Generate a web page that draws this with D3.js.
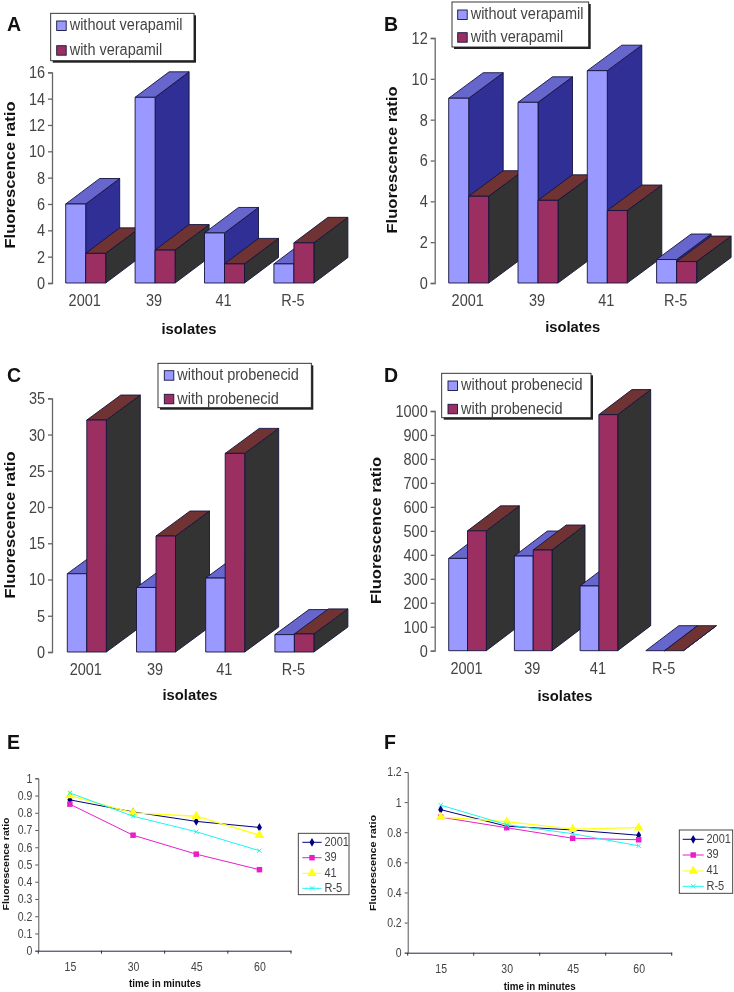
<!DOCTYPE html>
<html><head><meta charset="utf-8">
<script src="https://cdn.jsdelivr.net/npm/d3@7"></script>
<style>
html,body{margin:0;padding:0;background:#fff}
svg{display:block;filter:blur(0.4px)}
text{font-family:"Liberation Sans",Arial,sans-serif}
.tall{transform-box:fill-box;transform-origin:center;transform:scaleY(1.16)}
</style></head><body>
<svg id="c" width="734" height="992"></svg>
<script>
// ---- data ----
const categories = ["2001","39","41","R-5"];
const times = ["15","30","45","60"];
const verapamilNames = ["without verapamil","with verapamil"];
const probenecidNames = ["without probenecid","with probenecid"];
const lineNames = ["2001","39","41","R-5"];

const aWithout = [6, 14.1, 3.8, 1.45];
const aWith    = [2.25, 2.5, 1.45, 3.05];
const bWithout = [9.05, 8.85, 10.4, 1.15];
const bWith    = [4.25, 4.05, 3.55, 1.05];
const cWithout = [10.8, 8.9, 10.2, 2.4];
const cWith    = [32, 16, 27.4, 2.5];
const dWithout = [385, 395, 270, 0];
const dWith    = [500, 420, 985, 0];

const aTicks = [0,2,4,6,8,10,12,14,16];
const bTicks = [0,2,4,6,8,10,12];
const cTicks = [0,5,10,15,20,25,30,35];
const dTicks = [0,100,200,300,400,500,600,700,800,900,1000];
const eTicks = [0,0.1,0.2,0.3,0.4,0.5,0.6,0.7,0.8,0.9,1];
const fTicks = [0,0.2,0.4,0.6,0.8,1,1.2];

const e2001 = [0.875,0.805,0.75,0.715];
const e39   = [0.85,0.67,0.56,0.47];
const e41   = [0.90,0.80,0.78,0.67];
const eR5   = [0.915,0.78,0.69,0.58];
const f2001 = [0.95,0.84,0.815,0.78];
const f39   = [0.90,0.83,0.76,0.75];
const f41   = [0.90,0.87,0.82,0.83];
const fR5   = [0.98,0.85,0.79,0.71];

// ---- styles ----
const barFaces = [
  {front:"#9999ff",top:"#6666cc",side:"#2f2f96"},
  {front:"#9b2f62",top:"#703333",side:"#333333"}
];
const lineColors = ["#000080","#e81fc8","#ffff1a","#19f5f0"];
const symbols = [d3.symbolDiamond,d3.symbolSquare,d3.symbolTriangle,d3.symbolTimes];
const symbolSizes = [22,30,40,14];
const outline = "#14143c";
const svg = d3.select("#c");

function letter(t,x,y){
  svg.append("text").attr("x",x).attr("y",y).attr("font-size",19.5).attr("font-weight","bold")
     .attr("fill","#111").text(t);
}
function axisStyle(g,col,w,fs){
  g.selectAll("path,line").attr("stroke",col).attr("stroke-width",w);
  g.selectAll("text").attr("fill","#444").attr("font-size",fs).attr("class","tall")
   .style("font-family",'"Liberation Sans",Arial,sans-serif');
}
function rotated(t,x,y,fs,len){
  svg.append("text").attr("transform",`translate(${x},${y}) rotate(-90)`)
    .attr("text-anchor","middle").attr("dominant-baseline","middle")
    .attr("font-size",fs).attr("font-weight","bold").attr("fill","#111")
    .attr("textLength",len).attr("lengthAdjust","spacingAndGlyphs").text(t);
}
function centred(t,x,y,fs,len){
  svg.append("text").attr("x",x).attr("y",y).attr("text-anchor","middle").attr("dominant-baseline","middle")
    .attr("font-size",fs).attr("font-weight","bold").attr("fill","#111")
    .attr("textLength",len).attr("lengthAdjust","spacingAndGlyphs").text(t);
}

function barPanel(p){
  const y = d3.scaleLinear().domain([0,d3.max(p.ticks)]).range([p.y0,p.yTop]);
  const x = d3.scaleBand().domain(categories)
     .range([p.barX, p.barX+3*p.step+2*p.barW]).paddingInner(1-2*p.barW/p.step).paddingOuter(0);
  const inner = d3.scaleBand().domain([0,1]).range([0,x.bandwidth()]);
  const gy = svg.append("g").attr("transform",`translate(${p.axisX},0)`)
     .call(d3.axisLeft(y).tickValues(p.ticks).tickSize(4).tickSizeOuter(4).tickPadding(3).tickFormat(d3.format("d")));
  axisStyle(gy,"#666",1.3,14.5);
  const gx = svg.append("g").attr("transform",`translate(-1,${p.y0})`)
     .call(d3.axisBottom(x).tickSize(0).tickPadding(12));
  gx.select("path").remove();
  axisStyle(gx,"#666",1,14.5);

  categories.forEach((c,i)=>{
    const g = svg.append("g").attr("stroke",outline).attr("stroke-width",0.9).attr("stroke-linejoin","round");
    p.series.forEach((vals,s)=>{
      const x0 = x(c)+inner(s), w = inner.bandwidth(), x1 = x0+w, yt = y(vals[i]), yb = y(0);
      const dx = p.dx, dy = p.dy, f = barFaces[s];
      g.append("path").attr("fill",f.side)
        .attr("d",d3.line()([[x1,yb],[x1+dx,yb-dy],[x1+dx,yt-dy],[x1,yt]])+"Z");
      g.append("path").attr("fill",f.top)
        .attr("d",d3.line()([[x0,yt],[x0+dx,yt-dy],[x1+dx,yt-dy],[x1,yt]])+"Z");
      g.append("rect").attr("x",x0).attr("y",yt).attr("width",w).attr("height",yb-yt).attr("fill",f.front);
    });
  });
  // legend
  const l = p.legend;
  svg.append("rect").attr("x",l.x+2).attr("y",l.y+2).attr("width",l.w).attr("height",l.h).attr("fill","#222");
  svg.append("rect").attr("x",l.x).attr("y",l.y).attr("width",l.w).attr("height",l.h)
     .attr("fill","#fff").attr("stroke","#222").attr("stroke-width",0.9);
  p.names.forEach((n,s)=>{
    svg.append("rect").attr("x",l.sx).attr("y",l.sy[s]).attr("width",9.5).attr("height",9.5)
       .attr("fill",barFaces[s].front).attr("stroke",outline).attr("stroke-width",0.9);
    svg.append("text").attr("class","tall").attr("x",l.sx+13).attr("y",l.sy[s]+4.8).attr("dominant-baseline","middle")
       .attr("font-size",14.5).attr("fill","#444").text(n);
  });
  rotated("Fluorescence ratio",p.yl[0],p.yl[1],14.5,147);
  centred("isolates",p.xl[0],p.xl[1],15,55);
  letter(p.letter[0],p.letter[1],p.letter[2]);
}

function linePanel(p){
  const y = d3.scaleLinear().domain([0,d3.max(p.ticks)]).range([p.y0,p.yTop]);
  const x = d3.scalePoint().domain(times).range([p.x0,p.x1]).padding(0.5);
  const gy = svg.append("g").attr("transform",`translate(${p.x0},0)`)
     .call(d3.axisLeft(y).tickValues(p.ticks).tickSize(3).tickPadding(3).tickFormat(d=>String(d)));
  axisStyle(gy,"#555",1,10.5);
  const boundaries = d3.range(5).map(i=>p.x0+i*(p.x1-p.x0)/4);
  const gx = svg.append("g").attr("transform",`translate(0,${p.y0})`)
     .call(d3.axisBottom(x).tickSize(0).tickPadding(12));
  axisStyle(gx,"#333",1,10.5);
  gx.select("path").attr("stroke","#2a2250");
  gx.selectAll(".bt").data(boundaries).join("line").attr("class","bt")
     .attr("x1",d=>d).attr("x2",d=>d).attr("y1",0).attr("y2",3).attr("stroke","#333");
  const ln = d3.line().x((d,i)=>x(times[i])).y(d=>y(d));
  [0,1,2,3].forEach(s=>{
    const g = svg.append("g");
    g.append("path").attr("d",ln(p.series[s])).attr("fill","none")
      .attr("stroke",lineColors[s]).attr("stroke-width",s===2?1.3:1);
    p.series[s].forEach((v,i)=>{
      const m = g.append("path").attr("transform",`translate(${x(times[i])},${y(v)})`)
        .attr("d",d3.symbol().type(symbols[s]).size(symbolSizes[s])());
      if(s===3) m.attr("fill","none").attr("stroke",lineColors[s]).attr("stroke-width",1);
      else m.attr("fill",lineColors[s]);
    });
  });
  const l = p.legend;
  svg.append("rect").attr("x",l.x).attr("y",l.y).attr("width",l.w).attr("height",l.h)
     .attr("fill","#fff").attr("stroke","#333").attr("stroke-width",0.9);
  lineNames.forEach((n,s)=>{
    const yy = l.ys[s], xm = (l.lx0+l.lx1)/2;
    svg.append("line").attr("x1",l.lx0).attr("x2",l.lx1).attr("y1",yy).attr("y2",yy)
       .attr("stroke",lineColors[s]).attr("stroke-width",1);
    const m = svg.append("path").attr("transform",`translate(${xm},${yy})`)
       .attr("d",d3.symbol().type(symbols[s]).size(symbolSizes[s])());
    if(s===3) m.attr("fill","none").attr("stroke",lineColors[s]);
    else m.attr("fill",lineColors[s]);
    svg.append("text").attr("class","tall").attr("x",l.lx1+2.8).attr("y",yy).attr("dominant-baseline","middle")
       .attr("font-size",11).attr("fill","#444").text(n);
  });
  rotated("Fluorescence ratio",p.yl[0],p.yl[1],9.5,p.yl[2]);
  centred("time in minutes",p.xl[0],p.xl[1],10,72);
  letter(p.letter[0],p.letter[1],p.letter[2]);
}

barPanel({letter:["A",7,31],ticks:aTicks,series:[aWithout,aWith],names:verapamilNames,
  axisX:52,y0:283,yTop:72.3,barX:65.7,step:69.4,barW:20,dx:34,dy:25.5,
  yl:[11,175],xl:[189,330],
  legend:{x:50.7,y:13.3,w:143.3,h:47.4,sx:56.7,sy:[21,45.7]}});
barPanel({letter:["B",384,31],ticks:bTicks,series:[bWithout,bWith],names:verapamilNames,
  axisX:434.7,y0:283,yTop:38,barX:448.7,step:69.3,barW:20,dx:34.5,dy:25.5,
  yl:[393,160],xl:[572.7,328],
  legend:{x:452,y:2,w:136.7,h:45,sx:457.7,sy:[10,32.7]}});
barPanel({letter:["C",7,382],ticks:cTicks,series:[cWithout,cWith],names:probenecidNames,
  axisX:52,y0:652,yTop:398.3,barX:67.3,step:69.2,barW:19.5,dx:34,dy:25,
  yl:[11,525],xl:[190,695.7],
  legend:{x:158,y:363.3,w:153.3,h:44.4,sx:164.3,sy:[370.7,394.3]}});
barPanel({letter:["D",384,382],ticks:dTicks,series:[dWithout,dWith],names:probenecidNames,
  axisX:434.7,y0:650.7,yTop:411,barX:448.7,step:65.7,barW:18.8,dx:33,dy:25,
  yl:[377,530.5],xl:[565,696.7],
  legend:{x:441.7,y:373.3,w:149.3,h:44.4,sx:448,sy:[381,404.3]}});
linePanel({letter:["E",7,749],ticks:eTicks,series:[e2001,e39,e41,eR5],
  x0:38.3,x1:291,y0:950.7,yTop:778.3,yl:[6.5,864,93],xl:[165,984],
  legend:{x:298.3,y:833.3,w:50.7,h:61.4,lx0:302.3,lx1:321.7,ys:[842.3,857.7,873.3,888.3]}});
linePanel({letter:["F",384,749],ticks:fTicks,series:[f2001,f39,f41,fR5],
  x0:407.7,x1:671.7,y0:952.7,yTop:772,yl:[373.5,863,96],xl:[539.7,987],
  legend:{x:679.3,y:830,w:53.4,h:63.3,lx0:682.7,lx1:703.7,ys:[839.3,855,871,886.3]}});
</script>
</body></html>
